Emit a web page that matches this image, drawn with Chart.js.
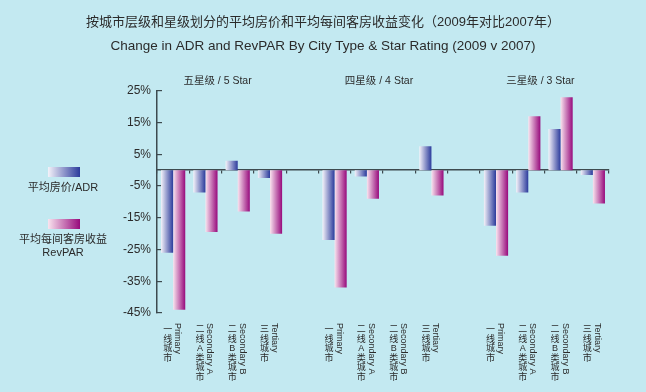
<!DOCTYPE html>
<html>
<head>
<meta charset="utf-8">
<script src="https://cdn.jsdelivr.net/npm/chart.js@4"></script>
<style>
  html, body { margin: 0; padding: 0; background: #c3e9f1; }
  canvas { display: block; }
</style>
</head>
<body>
<canvas id="chart" width="646" height="392"></canvas>
<script>
const titleZh = "按城市层级和星级划分的平均房价和平均每间客房收益变化（2009年对比2007年）";
const titleEn = "Change in ADR and RevPAR By City Type & Star Rating (2009 v 2007)";

const starGroups = ["五星级 / 5 Star", "四星级 / 4 Star", "三星级 / 3 Star"];
const cityTypesZh = ["一线城市", "二线A类城市", "二线B类城市", "三线城市"];
const cityTypesEn = ["Primary", "Secondary A", "Secondary B", "Tertiary"];

// % change, per city type
const adr5Star = [-26, -7, 3, -2.5];
const revpar5Star = [-44, -19.5, -13, -20];
const adr4Star = [-22, -2, null, 7.5];
const revpar4Star = [-37, -9, null, -8];
const adr3Star = [-17.5, -7, 13, -1.5];
const revpar3Star = [-27, 17, 23, -10.5];

const seriesNames = ["平均房价/ADR", "平均每间客房收益\nRevPAR"];
const yTicks = [25, 15, 5, -5, -15, -25, -35, -45];

const FONT = "'Liberation Sans', 'Noto Sans CJK SC', sans-serif";
const TEXT = "#2b2b2b";
const AXIS = "#3d4a4f";
const blue = ["#f4f2f9", "#2b3b9c"];
const pink = ["#f9e4ef", "#970a7c"];

// build the 14 slots (4 per star group, one empty slot between groups)
const labelsEn = [], labelsZh = [], adr = [], revpar = [], groupSlots = [];
const adrByStar = [adr5Star, adr4Star, adr3Star];
const revparByStar = [revpar5Star, revpar4Star, revpar3Star];
starGroups.forEach((g, gi) => {
  if (gi > 0) {
    labelsEn.push(""); labelsZh.push(""); adr.push(null); revpar.push(null);
  }
  const first = labelsEn.length;
  cityTypesEn.forEach((c, i) => {
    labelsEn.push(c);
    labelsZh.push(cityTypesZh[i]);
    adr.push(adrByStar[gi][i]);
    revpar.push(revparByStar[gi][i]);
  });
  groupSlots.push([first, labelsEn.length - 1]);
});

const CAT_PCT = 0.75;

function barFill(colors) {
  return function (ctx) {
    const chart = ctx.chart;
    const x = chart.scales.x;
    if (!x || !chart.chartArea || ctx.type !== "data") return colors[1];
    const w = x.width / labelsEn.length;
    const bw = (w * CAT_PCT) / 2;
    const c = x.getPixelForValue(ctx.dataIndex);
    const left = ctx.datasetIndex === 0 ? c - bw : c;
    const g = chart.ctx.createLinearGradient(left, 0, left + bw, 0);
    g.addColorStop(0, colors[0]);
    g.addColorStop(1, colors[1]);
    return g;
  };
}

const extras = {
  id: "extras",
  afterDraw(chart) {
    const ctx = chart.ctx;
    const x = chart.scales.x;
    ctx.save();
    ctx.fillStyle = TEXT;

    // star group headers
    ctx.font = "10.5px " + FONT;
    ctx.textAlign = "center";
    ctx.textBaseline = "middle";
    groupSlots.forEach((s, i) => {
      const cx = (x.getPixelForValue(s[0]) + x.getPixelForValue(s[1])) / 2 - 4;
      ctx.fillText(starGroups[i], cx, 81);
    });

    // vertical category labels
    ctx.font = "9px " + FONT;
    labelsEn.forEach((en, i) => {
      if (!en) return;
      const cx = x.getPixelForValue(i);
      // chinese, stacked upright
      ctx.textAlign = "center";
      ctx.textBaseline = "top";
      [...labelsZh[i]].forEach((ch, k) => {
        ctx.fillText(ch, cx - 5.5, 325 + k * 9.6);
      });
      // english, rotated clockwise
      ctx.save();
      ctx.translate(cx + 4.5, 323);
      ctx.rotate(Math.PI / 2);
      ctx.textAlign = "left";
      ctx.textBaseline = "middle";
      ctx.fillText(en, 0, 0);
      ctx.restore();
    });

    // legend on the left
    const items = [
      { colors: blue, y: 167, textY: 188 },
      { colors: pink, y: 219, textY: 240 },
    ];
    ctx.font = "11px " + FONT;
    ctx.textAlign = "center";
    ctx.textBaseline = "middle";
    items.forEach((it, i) => {
      const g = ctx.createLinearGradient(48, 0, 80, 0);
      g.addColorStop(0, it.colors[0]);
      g.addColorStop(1, it.colors[1]);
      ctx.fillStyle = g;
      ctx.fillRect(48, it.y, 32, 10);
      ctx.fillStyle = TEXT;
      seriesNames[i].split("\n").forEach((line, k) => {
        ctx.fillText(line, 63, it.textY + k * 13);
      });
    });
    ctx.restore();
  },
};

Chart.defaults.font.family = FONT;
Chart.defaults.color = TEXT;

new Chart(document.getElementById("chart"), {
  type: "bar",
  data: {
    labels: labelsEn,
    datasets: [
      {
        label: seriesNames[0],
        data: adr,
        backgroundColor: barFill(blue),
        hoverBackgroundColor: barFill(blue),
      },
      {
        label: seriesNames[1],
        data: revpar,
        backgroundColor: barFill(pink),
        hoverBackgroundColor: barFill(pink),
      },
    ],
  },
  options: {
    responsive: false,
    animation: false,
    events: [],
    categoryPercentage: CAT_PCT,
    barPercentage: 1,
    layout: { padding: { left: 37, right: 37, top: 0, bottom: 79 } },
    plugins: {
      legend: { display: false },
      tooltip: { enabled: false },
      title: {
        display: true,
        text: titleZh,
        color: TEXT,
        font: { size: 13, weight: "normal" },
        padding: { top: 15, bottom: 8 },
      },
      subtitle: {
        display: true,
        text: titleEn,
        color: TEXT,
        font: { size: 13.5, weight: "normal" },
        padding: { top: 0, bottom: 36 },
      },
    },
    scales: {
      x: {
        position: { y: 0 },
        ticks: { display: false },
        grid: {
          drawOnChartArea: false,
          drawTicks: true,
          tickLength: 3,
          color: AXIS,
          lineWidth: 1.2,
        },
        border: { color: AXIS, width: 1.5 },
      },
      y: {
        min: -45,
        max: 25,
        afterBuildTicks: (s) => { s.ticks = yTicks.map((v) => ({ value: v })); },
        afterFit: (s) => { s.width = 120; },
        ticks: {
          callback: (v) => v + "%",
          color: TEXT,
          font: { size: 12 },
          padding: 11,
        },
        grid: {
          drawOnChartArea: false,
          drawTicks: true,
          tickLength: -5,
          color: AXIS,
          lineWidth: 1.2,
        },
        border: { color: AXIS, width: 1.5 },
      },
    },
  },
  plugins: [extras],
});
</script>
</body>
</html>
